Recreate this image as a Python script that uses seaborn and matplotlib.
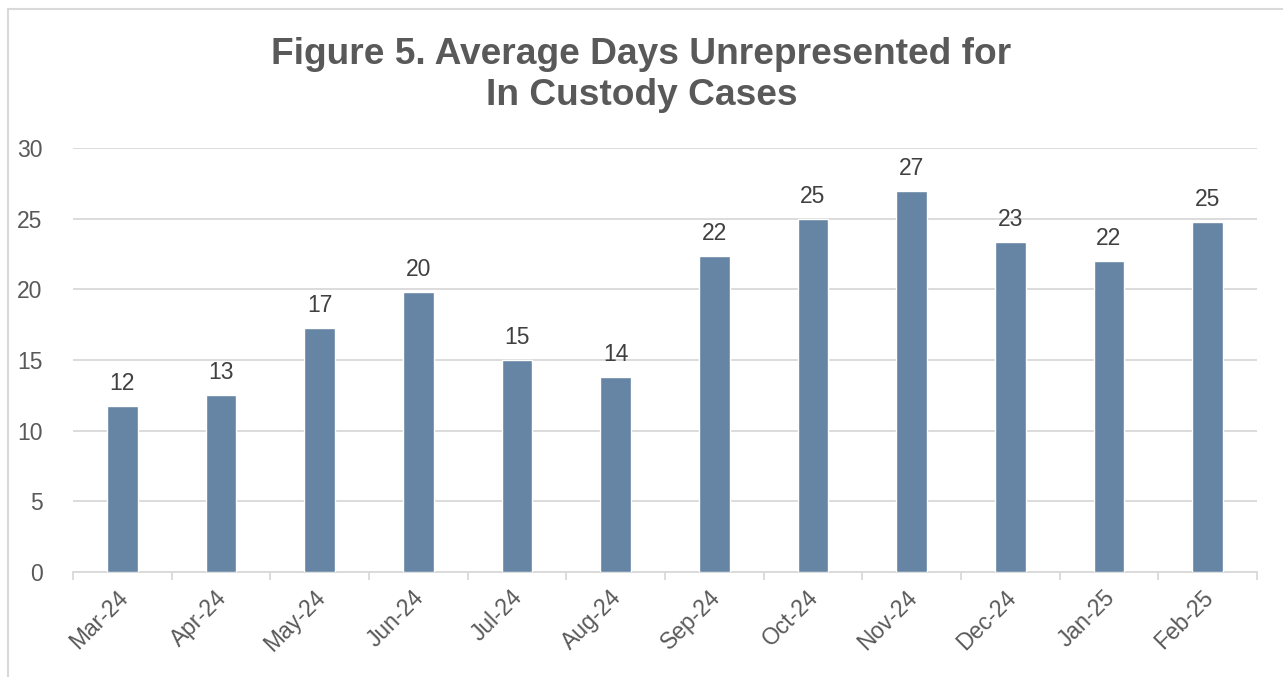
import matplotlib
matplotlib.use("Agg")
import matplotlib.pyplot as plt
import matplotlib.transforms as mtransforms
import pandas as pd
import seaborn as sns
from matplotlib.patches import Rectangle

MONTHS = ["Mar-24", "Apr-24", "May-24", "Jun-24", "Jul-24", "Aug-24",
          "Sep-24", "Oct-24", "Nov-24", "Dec-24", "Jan-25", "Feb-25"]
AVG_DAYS = [11.75, 12.55, 17.25, 19.8, 15.0, 13.8,
            22.35, 25.0, 26.95, 23.35, 22.0, 24.75]

BAR_COLOR = "#6685a4"
TEXT_COLOR = "#595959"
GRID_COLOR = "#d9d9d9"

sns.set_theme(style="white")
plt.rcParams["font.family"] = ["Liberation Sans", "DejaVu Sans"]

df = pd.DataFrame({"month": MONTHS, "days": AVG_DAYS})

fig = plt.figure(figsize=(12.83, 6.77), dpi=100)
ax = fig.add_axes([73 / 1283, 1 - 572 / 677, (1257 - 73) / 1283, (572 - 148) / 677])

sns.barplot(data=df, x="month", y="days", color=BAR_COLOR, width=0.31,
            saturation=1, ax=ax, zorder=3)

ax.set_ylim(0, 30)
ax.set_yticks(range(0, 31, 5))
ax.set_xlim(-0.5, len(MONTHS) - 0.5)
ax.yaxis.grid(True, color=GRID_COLOR, lw=1.3, zorder=0)
ax.set_axisbelow(True)
for side in ["top", "right", "left"]:
    ax.spines[side].set_visible(False)
ax.spines["bottom"].set_color(GRID_COLOR)
ax.spines["bottom"].set_linewidth(1.3)

# category boundary ticks below the axis
ax.set_xticks([i - 0.5 for i in range(len(MONTHS) + 1)], minor=True)
ax.tick_params(axis="x", which="minor", length=6, width=1.3, color=GRID_COLOR,
               direction="out", bottom=True)
ax.tick_params(axis="x", which="major", length=0, labelsize=16.5,
               labelcolor=TEXT_COLOR, pad=10)
ax.tick_params(axis="y", length=0, labelsize=16.5, labelcolor=TEXT_COLOR, pad=22)
shift = mtransforms.ScaledTranslation(-6 / 100, 0, fig.dpi_scale_trans)
for lbl in ax.get_xticklabels():
    lbl.set_rotation(45)
    lbl.set_ha("right")
    lbl.set_rotation_mode("anchor")
    lbl.set_transform(lbl.get_transform() + shift)
ax.set_xlabel("")
ax.set_ylabel("")

for i, v in enumerate(AVG_DAYS):
    ax.annotate(f"{round(v)}", (i, v), xytext=(0, 8), textcoords="offset points",
                ha="center", va="bottom", fontsize=16.5, color="#404040")

fig.text(0.5, 1 - 75 / 677, "Figure 5. Average Days Unrepresented for\nIn Custody Cases",
         ha="center", va="center", fontsize=26.7, fontweight="bold",
         color=TEXT_COLOR, linespacing=1.25)

fig.patches.append(Rectangle((8 / 1283, -0.01), 1.1, 1 - 9 / 677 + 0.01,
                             transform=fig.transFigure, fill=False,
                             edgecolor=GRID_COLOR, lw=1.5))

fig.savefig("out.png", dpi=100, facecolor="white")
